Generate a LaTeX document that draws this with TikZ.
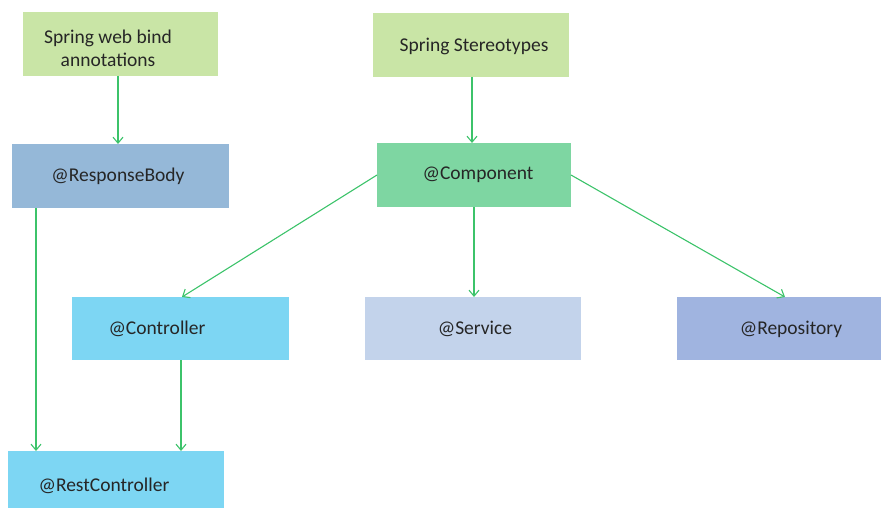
\documentclass[tikz,border=0pt]{standalone}
\usepackage{fontspec}
\setmainfont{Carlito}
\usetikzlibrary{arrows.meta}
\definecolor{cgreenlight}{HTML}{C9E5A6}
\definecolor{cresp}{HTML}{95B8D8}
\definecolor{ccomp}{HTML}{7ED6A2}
\definecolor{cctrl}{HTML}{7DD6F3}
\definecolor{cserv}{HTML}{C3D3EB}
\definecolor{crepo}{HTML}{A0B4E0}
\definecolor{carrow}{HTML}{3CC36A}
\tikzset{
  box/.style={draw=none, inner sep=0pt, outer sep=0pt, anchor=north west},
  txt/.style={font=\fontsize{19.5}{23}\selectfont, text=black!85, inner sep=0pt, align=center},
  conn/.style={draw=carrow, line width=1.1pt, -{Straight Barb[length=6pt,width=10pt,line width=1.1pt]}}
}
\begin{document}
\begin{tikzpicture}[x=1pt,y=-1pt]
\useasboundingbox (0,0) rectangle (881,508);
% boxes
\node[box, fill=cgreenlight, minimum width=195, minimum height=64] (web) at (23,12) {};
\node[box, fill=cgreenlight, minimum width=196, minimum height=64] (stereo) at (373,13) {};
\node[box, fill=cresp, minimum width=217, minimum height=64] (resp) at (12,144) {};
\node[box, fill=ccomp, minimum width=194, minimum height=64] (comp) at (377,143) {};
\node[box, fill=cctrl, minimum width=217, minimum height=63] (ctrl) at (72,297) {};
\node[box, fill=cserv, minimum width=216, minimum height=63] (serv) at (365,297) {};
\node[box, fill=crepo, minimum width=204, minimum height=63] (repo) at (677,297) {};
\node[box, fill=cctrl, minimum width=216, minimum height=60] (rest) at (8,451) {};
% texts
\node[txt] (tweb) at (108,48) {Spring web bind\\annotations};
\node[txt] (tstereo) at (474,46) {Spring Stereotypes};
\node[txt] (tresp) at (118,176) {@ResponseBody};
\node[txt] (tcomp) at (478,175) {@Component};
\node[txt] (tctrl) at (157,329) {@Controller};
\node[txt] (tserv) at (475,329) {@Service};
\node[txt] (trepo) at (791,329) {@Repository};
\node[txt] (trest) at (104,486) {@RestController};
% connectors
\draw[conn] (web.south west) ++(95,0) coordinate (a1) -- (a1 |- resp.north);
\draw[conn] (stereo.south west) ++(99,0) coordinate (a2) -- (a2 |- comp.north);
\draw[conn] (resp.south west) ++(24,0) coordinate (a3) -- (a3 |- rest.north);
\draw[conn] (comp.west) -- ([xshift=1.5pt]ctrl.north);
\draw[conn] (comp.south west) ++(97,0) coordinate (a5) -- (a5 |- serv.north);
\draw[conn] (comp.east) -- ([xshift=6pt]repo.north);
\draw[conn] (ctrl.south west) ++(109,0) coordinate (a7) -- (a7 |- rest.north);
\end{tikzpicture}
\end{document}
